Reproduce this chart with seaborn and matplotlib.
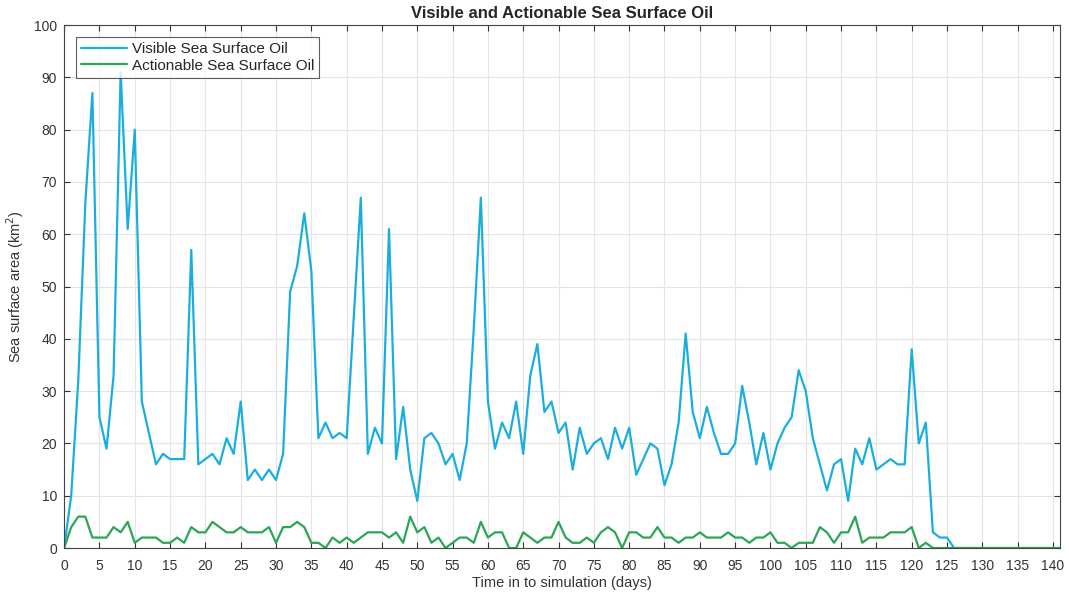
import numpy as np
import pandas as pd
import matplotlib
matplotlib.use("Agg")
import matplotlib.pyplot as plt
import seaborn as sns

# дни моделирования
days = list(range(0, 142))

# видимая нефть на поверхности, км2
visible = [
    0, 10, 32, 66, 87, 25, 19, 33, 91, 61,
    80, 28, 22, 16, 18, 17, 17, 17, 57, 16,
    17, 18, 16, 21, 18, 28, 13, 15, 13, 15,
    13, 18, 49, 54, 64, 53, 21, 24, 21, 22,
    21, 44, 67, 18, 23, 20, 61, 17, 27, 15,
    9, 21, 22, 20, 16, 18, 13, 20, 42, 67,
    28, 19, 24, 21, 28, 18, 33, 39, 26, 28,
    22, 24, 15, 23, 18, 20, 21, 17, 23, 19,
    23, 14, 17, 20, 19, 12, 16, 24, 41, 26,
    21, 27, 22, 18, 18, 20, 31, 24, 16, 22,
    15, 20, 23, 25, 34, 30, 21, 16, 11, 16,
    17, 9, 19, 16, 21, 15, 16, 17, 16, 16,
    38, 20, 24, 3, 2, 2, 0,
] + [0] * 15

# нефть, доступная для ликвидации, км2
actionable = [
    0, 4, 6, 6, 2, 2, 2, 4, 3, 5,
    1, 2, 2, 2, 1, 1, 2, 1, 4, 3,
    3, 5, 4, 3, 3, 4, 3, 3, 3, 4,
    1, 4, 4, 5, 4, 1, 1, 0, 2, 1,
    2, 1, 2, 3, 3, 3, 2, 3, 1, 6,
    3, 4, 1, 2, 0, 1, 2, 2, 1, 5,
    2, 3, 3, 0, 0, 3, 2, 1, 2, 2,
    5, 2, 1, 1, 2, 1, 3, 4, 3, 0,
    3, 3, 2, 2, 4, 2, 2, 1, 2, 2,
    3, 2, 2, 2, 3, 2, 2, 1, 2, 2,
    3, 1, 1, 0, 1, 1, 1, 4, 3, 1,
    3, 3, 6, 1, 2, 2, 2, 3, 3, 3,
    4, 0, 1, 0,
] + [0] * 18

series_names = ["Visible Sea Surface Oil", "Actionable Sea Surface Oil"]

df = pd.DataFrame(
    {
        "day": days * 2,
        "area": visible + actionable,
        "series": [series_names[0]] * len(days) + [series_names[1]] * len(days),
    }
)

sns.set_style("whitegrid")
plt.rcParams["font.family"] = ["Liberation Sans", "DejaVu Sans"]

fig, ax = plt.subplots(figsize=(10.69, 5.96), dpi=100)
fig.subplots_adjust(left=0.060, right=0.9916, bottom=0.0805, top=0.958)

sns.lineplot(
    data=df,
    x="day",
    y="area",
    hue="series",
    palette=["#1aaee0", "#2ca556"],
    linewidth=1.6,
    ax=ax,
)

ax.set_xlim(0, 141)
ax.set_ylim(0, 100)
ax.set_xticks(np.arange(0, 141, 5))
ax.set_yticks(np.arange(0, 101, 10))
ax.tick_params(direction="in", length=4, labelsize=10, colors="#333333",
               top=True, right=True, bottom=True, left=True)
ax.tick_params(axis="x", pad=8)
ax.tick_params(axis="y", pad=5)
ax.grid(True, color="#e4e4e4", linewidth=0.8)
for sp in ax.spines.values():
    sp.set_color("#444444")
    sp.set_linewidth(0.8)

# заголовок и подписи осей
ax.set_title("Visible and Actionable Sea Surface Oil", fontsize=12,
             fontweight="bold", pad=5)
ax.set_xlabel("Time in to simulation (days)", fontsize=10.5, labelpad=2, color="#333333")
ax.set_ylabel("Sea surface area (km$^2$)", fontsize=10.5, labelpad=6, color="#333333")

leg = ax.legend(loc="upper left", fontsize=11, handlelength=2.95,
                bbox_to_anchor=(0.012, 0.978), frameon=True, fancybox=False,
                borderpad=0.35, labelspacing=0.18, handletextpad=0.33,
                borderaxespad=0.0)
leg.get_frame().set_edgecolor("#333333")
leg.get_frame().set_linewidth(0.8)

fig.savefig("out.png", dpi=100)
